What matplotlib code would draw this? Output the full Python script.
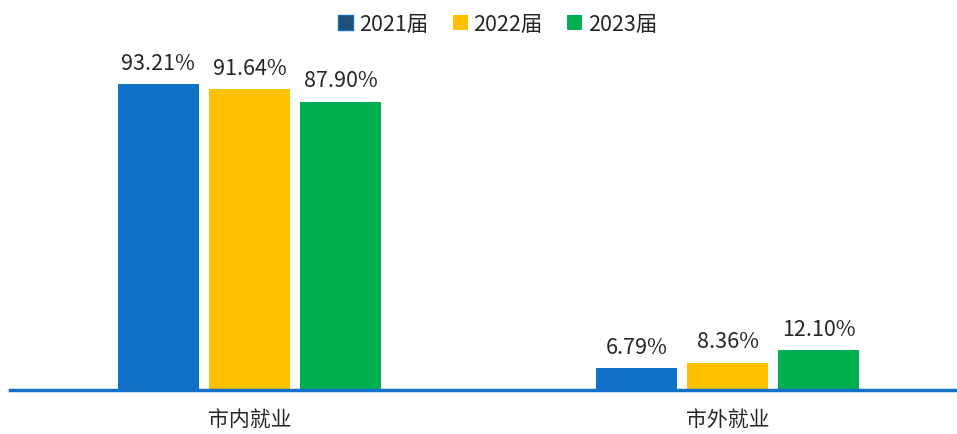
import matplotlib
matplotlib.use('Agg')
import matplotlib.pyplot as plt
import numpy as np

plt.rcParams['font.family'] = ['Noto Sans CJK SC', 'DejaVu Sans']

categories = ['市内就业', '市外就业']
series = ['2021届', '2022届', '2023届']
v2021 = [93.21, 6.79]
v2022 = [91.64, 8.36]
v2023 = [87.90, 12.10]
colors = ['#1170C8', '#FFC000', '#00B050']

fig = plt.figure(figsize=(9.57, 4.35), dpi=100)
ax = fig.add_axes([0.0105, 0.101, 0.9895, 0.754])

x = np.arange(len(categories))
w = 0.17
step = 0.191
vals = [v2021, v2022, v2023]
for i, (name, v, c) in enumerate(zip(series, vals, colors)):
    pos = x + (i - 1) * step
    bars = ax.bar(pos, v, width=w, color=c, label=name, zorder=2)
    for b, val in zip(bars, v):
        ax.annotate(f'{val:.2f}%', (b.get_x() + b.get_width() / 2, val),
                    xytext=(0, 11), textcoords='offset points',
                    ha='center', va='baseline', fontsize=15.5,
                    fontweight='light', color='#262626')

ax.set_xlim(-0.501, 1.48)
ax.set_ylim(0, 100)
for s in ['top', 'right', 'left']:
    ax.spines[s].set_visible(False)
ax.spines['bottom'].set_color('#1170C8')
ax.spines['bottom'].set_linewidth(2.5)
ax.set_yticks([])
ax.set_xticks(x)
ax.set_xticklabels(categories, fontsize=15, fontweight='light', color='#262626')
ax.tick_params(axis='x', length=0, pad=13)

handles, labels = ax.get_legend_handles_labels()
leg = fig.legend(handles, labels, loc='center', bbox_to_anchor=(0.52, 0.943),
                 ncol=3, frameon=False, handlelength=0.7,
                 handleheight=0.7, handletextpad=0.25, columnspacing=1.15,
                 prop={'size': 15.5, 'weight': 'light'})
leg.legend_handles[0].set_facecolor('#1F4E79')
leg.legend_handles[0].set_edgecolor('#1170C8')
for t in leg.get_texts():
    t.set_color('#262626')

fig.savefig('out.png', dpi=100)
